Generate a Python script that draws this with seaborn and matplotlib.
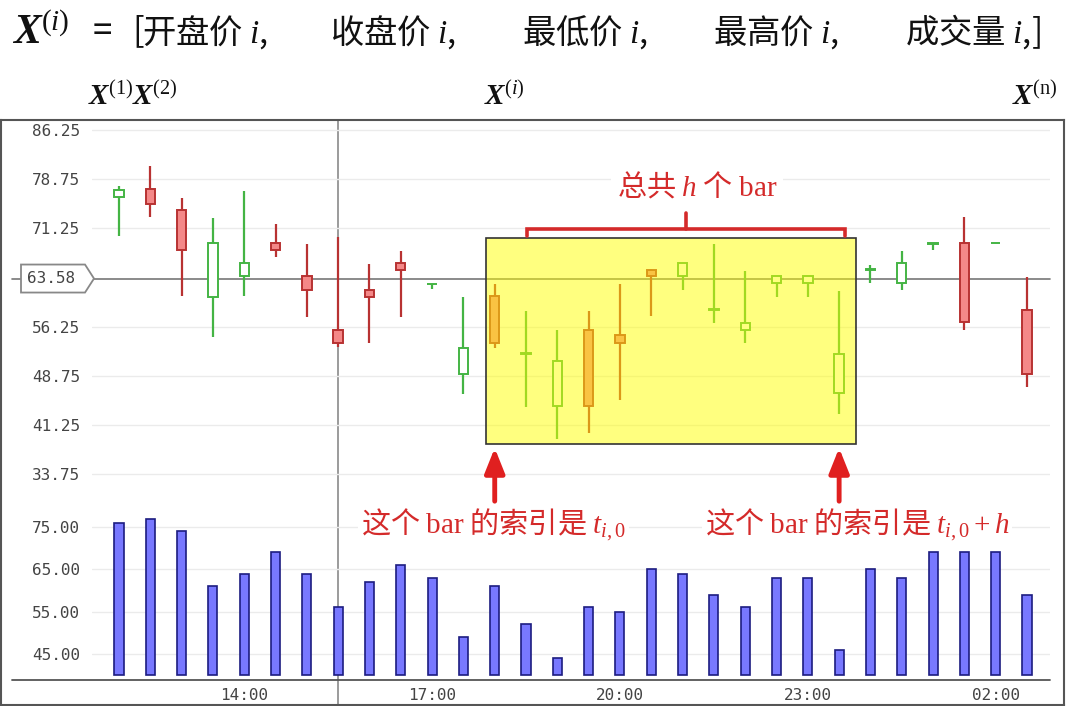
import numpy as np
import pandas as pd
import matplotlib
matplotlib.use("Agg")
import matplotlib.pyplot as plt
import matplotlib.transforms as mtransforms
from matplotlib.patches import Rectangle, Polygon
import seaborn as sns

# ---------------- data ----------------
bar_idx = list(range(30))
opens  = [76.0, 77.2, 74.1, 60.8, 63.9, 69.0, 63.9, 55.8, 61.9, 65.9,
          62.7, 49.0, 60.9, 52.0, 44.05, 55.8, 54.9, 64.9, 63.95, 58.8,
          55.74, 62.9, 62.9, 46.05, 64.9, 62.9, 68.9, 69.0, 68.95, 58.8]
closes = [77.1, 75.0, 68.0, 69.0, 65.9, 68.0, 61.9, 53.7, 60.8, 64.9,
          62.8, 53.0, 53.75, 52.2, 51.05, 44.05, 53.8, 63.95, 65.94, 59.0,
          56.86, 63.9, 63.9, 52.0, 65.0, 65.9, 69.0, 56.9, 69.0, 49.05]
lows   = [70.0, 73.0, 60.84, 54.72, 60.84, 66.86, 57.78, 53.2, 53.7, 57.78,
          62.0, 46.0, 53.0, 44.0, 39.15, 40.05, 45.0, 57.8, 61.9, 56.8,
          53.7, 60.8, 60.8, 42.9, 62.9, 61.86, 68.0, 55.7, 68.95, 47.0]
highs  = [77.7, 80.8, 75.94, 72.88, 76.96, 71.86, 68.8, 69.9, 65.74, 67.78,
          62.8, 60.7, 62.7, 58.7, 55.65, 58.65, 62.8, 65.0, 66.0, 68.8,
          64.7, 64.0, 64.0, 61.7, 65.7, 67.78, 69.0, 72.9, 69.0, 63.8]
volume = [76, 77, 74, 61, 64, 69, 64, 56, 62, 66,
          63, 49, 61, 52, 44, 56, 55, 65, 64, 59,
          56, 63, 63, 46, 65, 63, 69, 69, 69, 59]
vol_base = 40

price_ticks = [86.25, 78.75, 71.25, 56.25, 48.75, 41.25, 33.75]
vol_ticks = [75, 65, 55, 45]
time_tick_idx = [4, 10, 16, 22, 28]
time_labels = ["14:00", "17:00", "20:00", "23:00", "02:00"]
current_price = 63.58
cursor_idx = 7
t0 = 12
h = 11
fields = ["开盘价", "收盘价", "最低价", "最高价", "成交量"]

# ---------------- style ----------------
sns.set_theme(style="white")
plt.rcParams["font.family"] = ["Noto Sans CJK SC", "DejaVu Sans"]
plt.rcParams["mathtext.fontset"] = "custom"
plt.rcParams["mathtext.rm"] = "Liberation Serif"
plt.rcParams["mathtext.it"] = "Liberation Serif:italic"
plt.rcParams["mathtext.bf"] = "Liberation Serif:bold:italic"

RED_TXT = "#d42a2a"
GREEN = "#44b444"
RED_EDGE = "#b83232"
RED_FILL = "#f48888"
TICK_C = "#444444"
GRID_C = "#ebebeb"
LAB_FS = 11.5

W, H = 1080, 706
fig = plt.figure(figsize=(W / 100, H / 100), dpi=100)


def fr(l, t, r, b):
    return [l / W, 1 - b / H, (r - l) / W, (b - t) / H]


# outer frame
ax_frame = fig.add_axes(fr(1, 120, 1064, 705), zorder=0)
ax_frame.set_xticks([])
ax_frame.set_yticks([])
for s in ax_frame.spines.values():
    s.set_color("#555555")
    s.set_linewidth(1.5)

# layout constants (pixel mapping)
px0, dpx = 119.0, 31.31
xlim = ((92 - px0) / dpx, (1050 - px0) / dpx)
x_ext_left = (12 - px0) / dpx
p_top, p_scale = 86.25, 6.552
p_ylim = (p_top - (480 - 130) / p_scale, p_top + (130 - 124) / p_scale)
v_scale = (675 - 527) / 35.0
v_ylim = (vol_base - (680 - 675) / v_scale, vol_base + (675 - 505) / v_scale)

# ---------------- volume panel ----------------
ax_v = fig.add_axes(fr(92, 505, 1050, 680), zorder=1)
ax_v.set_facecolor("none")
vol_height = [v - vol_base for v in volume]
sns.barplot(x=bar_idx, y=vol_height, bottom=vol_base, native_scale=True,
            width=0.29, color="#7878ff", edgecolor="#1c1c80", linewidth=1.2,
            saturation=1, ax=ax_v, zorder=2)
ax_v.set_xlim(*xlim)
ax_v.set_ylim(*v_ylim)
ax_v.set_yticks(vol_ticks)
ax_v.set_yticklabels([f"{v:.2f}" for v in vol_ticks])
ax_v.set_xticks(time_tick_idx)
ax_v.set_xticklabels(time_labels)
ax_v.set_xlabel("")
ax_v.set_ylabel("")
for s in ax_v.spines.values():
    s.set_visible(False)
ax_v.grid(axis="y", color=GRID_C, lw=1)
ax_v.set_axisbelow(True)
ax_v.tick_params(axis="y", length=0, pad=8.6, labelsize=LAB_FS, labelcolor=TICK_C)
ax_v.tick_params(axis="x", length=3, width=1, color="#555555", direction="out",
                 pad=3, labelsize=LAB_FS, labelcolor=TICK_C)
for lab in ax_v.get_xticklabels() + ax_v.get_yticklabels():
    lab.set_family("DejaVu Sans Mono")
ax_v.plot([x_ext_left, xlim[1]], [v_ylim[0], v_ylim[0]], color="#555555",
          lw=1.3, clip_on=False, zorder=3)

# ---------------- price panel ----------------
ax_p = fig.add_axes(fr(92, 124, 1050, 480), zorder=2)
ax_p.set_facecolor("none")
ax_p.set_xlim(*xlim)
ax_p.set_ylim(*p_ylim)
for s in ax_p.spines.values():
    s.set_visible(False)
ax_p.set_xticks([])
ax_p.set_yticks(price_ticks)
ax_p.set_yticklabels([f"{v:.2f}" for v in price_ticks])
ax_p.tick_params(axis="y", length=0, pad=8.6, labelsize=LAB_FS, labelcolor=TICK_C)
for lab in ax_p.get_yticklabels():
    lab.set_family("DejaVu Sans Mono")
ax_p.grid(axis="y", color=GRID_C, lw=1)
ax_p.set_axisbelow(True)

# current price line + tag
ax_p.plot([x_ext_left, xlim[1]], [current_price, current_price], color="#777777",
          lw=1.2, clip_on=False, zorder=1)
tag_l, tag_r, tag_tip = (21 - px0) / dpx, (85 - px0) / dpx, (94 - px0) / dpx
tag_h = 14 / p_scale
ax_p.add_patch(Polygon([(tag_l, current_price - tag_h), (tag_r, current_price - tag_h),
                        (tag_tip, current_price), (tag_r, current_price + tag_h),
                        (tag_l, current_price + tag_h)], closed=True,
                       facecolor="white", edgecolor="#888888", lw=1.3,
                       clip_on=False, zorder=2))
ax_p.text((tag_l + tag_r) / 2 - 0.05, current_price, f"{current_price:.2f}",
          ha="center", va="center", fontsize=LAB_FS, color=TICK_C,
          family="DejaVu Sans Mono", zorder=3)

# candles
df = pd.DataFrame({"i": bar_idx, "o": opens, "c": closes, "l": lows, "h": highs})
up = df[df.c >= df.o]
dn = df[df.c < df.o]
ax_p.vlines(up.i, up.l, up.h, color=GREEN, lw=1.6, zorder=2)
ax_p.vlines(dn.i, dn.l, dn.h, color=RED_EDGE, lw=1.6, zorder=2)
ax_p.bar(up.i, (up.c - up.o).clip(lower=0.12), bottom=up.o, width=0.3,
         facecolor="white", edgecolor=GREEN, lw=1.4, zorder=3)
ax_p.bar(dn.i, dn.o - dn.c, bottom=dn.c, width=0.3,
         facecolor=RED_FILL, edgecolor=RED_EDGE, lw=1.4, zorder=3)

# highlighted window
win_l, win_r = t0 - 0.28, t0 + h + 0.54
win_b, win_t = 38.33, 69.77
ax_p.add_patch(Rectangle((win_l, win_b), win_r - win_l, win_t - win_b,
                         facecolor=(1, 1, 0, 0.5), edgecolor="#333333", lw=1.2,
                         zorder=4))

# bracket
br_l, br_r = t0 + 1.03, t0 + h + 0.2
br_y, br_d, br_u = 71.14, 70.07, 73.58
br_c = (br_l + br_r) / 2
ax_p.plot([br_l, br_l, br_r, br_r], [br_d, br_y, br_y, br_d], color=RED_TXT,
          lw=2.6, solid_joinstyle="miter", zorder=5)
ax_p.plot([br_c, br_c], [br_y, br_u], color=RED_TXT, lw=2.6, zorder=5)
ax_p.text(br_c + 0.35, 77.55, r"总共 $h$ 个 $\mathrm{bar}$", ha="center",
          va="center", fontsize=21, color=RED_TXT, family="Noto Sans CJK SC",
          zorder=6,
          bbox=dict(boxstyle="square,pad=0.2", facecolor="white", edgecolor="none"))

# arrows + labels
for xi in (t0, t0 + h):
    ax_p.annotate("", xy=(xi, 37.72), xytext=(xi, 29.6),
                  arrowprops=dict(arrowstyle="-|>,head_length=0.75,head_width=0.3",
                                  color="#e02020", lw=3.5, shrinkA=0, shrinkB=0,
                                  mutation_scale=20),
                  annotation_clip=False, zorder=6)
lab_y = 26.0
ax_p.text(t0 - 0.05, lab_y, r"这个 $\mathrm{bar}$ 的索引是 $t_{i,0}$", ha="center",
          va="center", fontsize=21, color=RED_TXT, family="Noto Sans CJK SC",
          zorder=6,
          bbox=dict(boxstyle="square,pad=0.1", facecolor="white", edgecolor="none"))
ax_p.text(t0 + h + 0.57, lab_y, r"这个 $\mathrm{bar}$ 的索引是 $t_{i,0}+h$",
          ha="center", va="center", fontsize=21, color=RED_TXT,
          family="Noto Sans CJK SC", zorder=6,
          bbox=dict(boxstyle="square,pad=0.1", facecolor="white", edgecolor="none"))

# cursor crosshair (full frame height)
trans = mtransforms.blended_transform_factory(ax_p.transData, ax_frame.transAxes)
ax_frame.plot([cursor_idx, cursor_idx], [0, 1], transform=trans, color="#8a8a8a",
              lw=1.2, zorder=1)

# ---------------- header texts ----------------
title_y = 1 - 32 / H
fig.text(12 / W, title_y, r"$\mathbf{X}^{(i)}$", ha="left", va="center",
         fontsize=30, color="#111111")
fig.text(93 / W, title_y, "=", ha="left", va="center", fontsize=25,
         color="#111111", family="Noto Sans CJK SC")
fig.text(132 / W, title_y, "[", ha="left", va="center", fontsize=25,
         color="#111111", family="Noto Sans CJK SC")
field_x = [142, 330, 522, 713, 905]
for k, (name, fx) in enumerate(zip(fields, field_x)):
    tail = ",]" if k == len(fields) - 1 else ","
    fig.text(fx / W, title_y, f"{name} $i${tail}", ha="left", va="center",
             fontsize=24, color="#111111", family="Noto Sans CJK SC")

fig.text(88 / W, 1 - 97 / H, r"$\mathbf{X}^{(1)}\mathbf{X}^{(2)}$", ha="left",
         va="center", fontsize=21, color="#111111")
fig.text(484 / W, 1 - 97 / H, r"$\mathbf{X}^{(i)}$", ha="left", va="center",
         fontsize=21, color="#111111")
fig.text(1012 / W, 1 - 97 / H, r"$\mathbf{X}^{(\mathrm{n})}$", ha="left",
         va="center", fontsize=21, color="#111111")

fig.savefig("out.png", dpi=100)
